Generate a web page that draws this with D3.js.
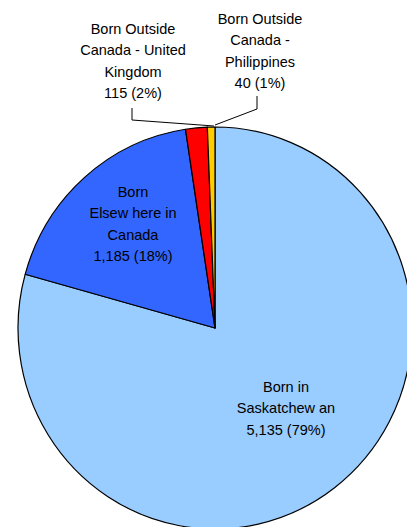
<!DOCTYPE html>
<html>
<head>
<meta charset="utf-8">
<script src="https://cdn.jsdelivr.net/npm/d3@7"></script>
<style>
  html, body { margin: 0; padding: 0; background: #fff; }
  svg { display: block; }
  text { font-family: "Liberation Sans", Arial, sans-serif; font-size: 14.5px; fill: #000; }
</style>
</head>
<body>
<svg id="chart" width="407" height="527"></svg>
<script>
// ---- data ----
const categories = [
  ["Born in", "Saskatchew an"],
  ["Born", "Elsew here in", "Canada"],
  ["Born Outside", "Canada - United", "Kingdom"],
  ["Born Outside", "Canada -", "Philippines"]
];
const values = [5135, 1185, 115, 40];
const colors = ["#99CCFF", "#3366FF", "#FF0000", "#FFCC00"];

// ---- layout ----
const W = 407, H = 527;
const cx = 215, cy = 328, rx = 197, ry = 201;
// label block: center x, baseline of first line
const labelPos = [
  { x: 286, y: 392 },
  { x: 133, y: 197 },
  { x: 133, y: 34 },
  { x: 260, y: 24 }
];
const lineH = 21.3;
// leader lines for outside labels (index -> points)
const leaders = {
  2: [[132, 108], [132, 120], [214, 126]],
  3: [[257, 96], [257, 109], [215, 125]]
};

const svg = d3.select("#chart");
const total = d3.sum(values);
const fmt = d3.format(",");

const pie = d3.pie().sort(null).value(d => d)(values);
const arc = d3.arc().innerRadius(0).outerRadius(ry);

const g = svg.append("g")
  .attr("transform", `translate(${cx},${cy}) scale(${rx / ry},1)`);

g.selectAll("path")
  .data(pie)
  .join("path")
  .attr("d", arc)
  .attr("fill", (d, i) => colors[i])
  .attr("stroke", "#000")
  .attr("stroke-width", 1.2)
  .attr("stroke-linejoin", "round")
  .attr("vector-effect", "non-scaling-stroke");

// leader lines
const line = d3.line();
Object.entries(leaders).forEach(([i, pts]) => {
  svg.append("path")
    .attr("d", line(pts))
    .attr("fill", "none")
    .attr("stroke", "#000")
    .attr("stroke-width", 1);
});

// labels
categories.forEach((lines, i) => {
  const pct = Math.round(values[i] / total * 100);
  const all = lines.concat([`${fmt(values[i])} (${pct}%)`]);
  const t = svg.append("text")
    .attr("text-anchor", "middle");
  all.forEach((s, k) => {
    t.append("tspan")
      .attr("x", labelPos[i].x)
      .attr("y", labelPos[i].y + k * lineH)
      .text(s);
  });
});
</script>
</body>
</html>
